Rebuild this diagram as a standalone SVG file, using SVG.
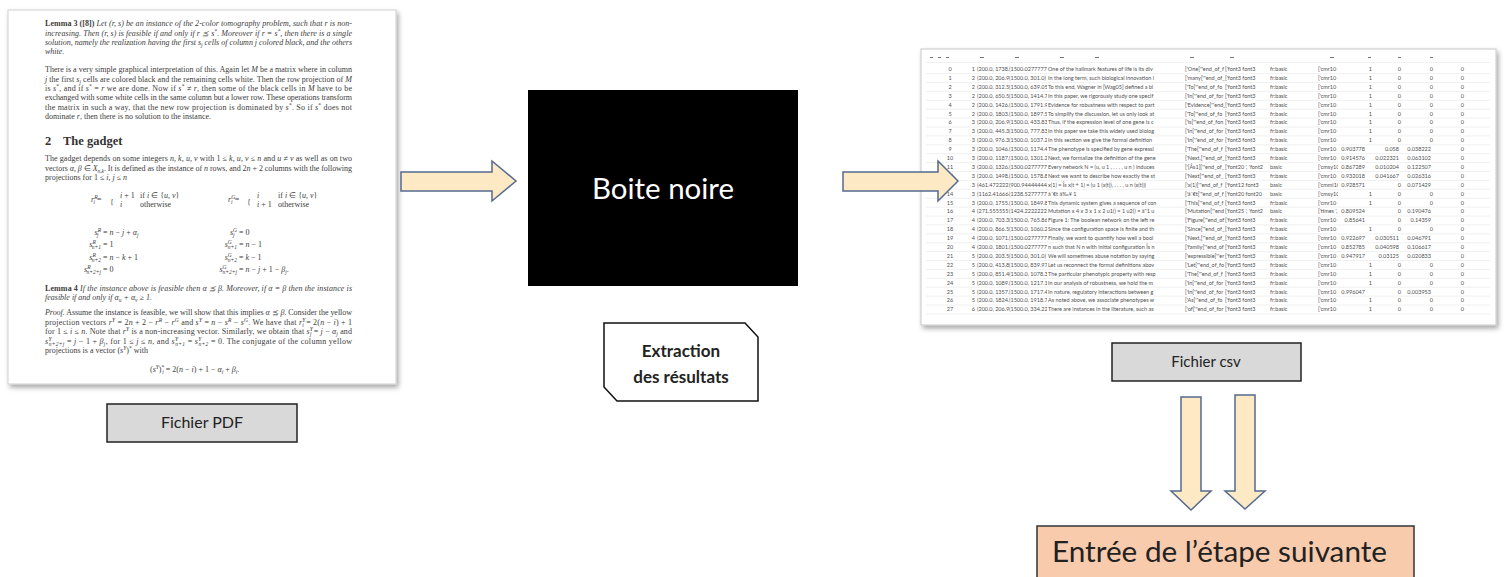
<svg xmlns="http://www.w3.org/2000/svg" width="1506" height="577" viewBox="0 0 1506 577">
<defs>
<style>
.p{font-family:"Liberation Serif",serif;font-size:8px;fill:#3c3c3c}
.it{font-style:italic}
.b{font-weight:bold}
.s{font-size:5.5px}
.h{font-family:"Liberation Serif",serif;font-size:12.5px;font-weight:bold;fill:#333}
.lbl{font-family:Lato,"Liberation Sans",sans-serif;fill:#222}
.c{font-family:Lato,"Liberation Sans",sans-serif;font-size:5.5px;fill:#505050}
.arw{fill:#fde9c4;stroke:#56698f;stroke-width:1.5;stroke-linejoin:miter}
.tag{fill:#d9d9d9;stroke:#222;stroke-width:1.5}
</style>
<filter id="sh" x="-5%" y="-5%" width="112%" height="112%"><feDropShadow dx="2" dy="3" stdDeviation="2.5" flood-color="#000" flood-opacity="0.35"/></filter>
<clipPath id="cb1"><rect x="976" y="60" width="33" height="262"/></clipPath>
<clipPath id="cb2"><rect x="1009" y="60" width="38" height="262"/></clipPath>
<clipPath id="ctx"><rect x="1047" y="60" width="138" height="262"/></clipPath>
<clipPath id="cls"><rect x="1185" y="60" width="40" height="262"/></clipPath>
<clipPath id="cfn"><rect x="1225" y="60" width="42" height="262"/></clipPath>
<clipPath id="ccm"><rect x="1318" y="60" width="20" height="262"/></clipPath>
</defs>
<rect width="1506" height="577" fill="#fff"/>

<g id="pdf-page">
<rect x="8" y="10" width="388" height="374" fill="#fff" stroke="#cfcfcf" stroke-width="1" filter="url(#sh)"/>
<text class="p" x="45" y="26" textLength="307" lengthAdjust="spacing"><tspan class="b">Lemma 3 ([8])</tspan> <tspan class="it">Let (r, s) be an instance of the 2-color tomography problem, such that r is non-</tspan></text>
<text class="p it" x="45" y="36" textLength="307" lengthAdjust="spacing">increasing. Then (r, s) is feasible if and only if r ⪯ s<tspan class="s" dy="-3">*</tspan><tspan dy="3">. Moreover if r = s</tspan><tspan class="s" dy="-3">*</tspan><tspan dy="3">, then there is a single</tspan></text>
<text class="p it" x="45" y="45" textLength="307" lengthAdjust="spacing">solution, namely the realization having the first s<tspan class="s" dy="2">j</tspan><tspan dy="-2"> cells of column j colored black, and the others</tspan></text>
<text class="p it" x="45" y="54">white.</text>
<text class="p" x="45" y="72" textLength="307" lengthAdjust="spacing">There is a very simple graphical interpretation of this. Again let <tspan class="it">M</tspan> be a matrix where in column</text>
<text class="p" x="45" y="82" textLength="307" lengthAdjust="spacing"><tspan class="it">j</tspan> the first <tspan class="it">s</tspan><tspan class="s it" dy="2">j</tspan><tspan dy="-2"> cells are colored black and the remaining cells white. Then the row projection of </tspan><tspan class="it">M</tspan></text>
<text class="p" x="45" y="91" textLength="307" lengthAdjust="spacing">is <tspan class="it">s</tspan><tspan class="s" dy="-3">*</tspan><tspan dy="3">, and if </tspan><tspan class="it">s</tspan><tspan class="s" dy="-3">*</tspan><tspan dy="3"> = </tspan><tspan class="it">r</tspan> we are done. Now if <tspan class="it">s</tspan><tspan class="s" dy="-3">*</tspan><tspan dy="3"> ≠ </tspan><tspan class="it">r</tspan>, then some of the black cells in <tspan class="it">M</tspan> have to be</text>
<text class="p" x="45" y="100" textLength="307" lengthAdjust="spacing">exchanged with some white cells in the same column but a lower row. These operations transform</text>
<text class="p" x="45" y="110" textLength="307" lengthAdjust="spacing">the matrix in such a way, that the new row projection is dominated by <tspan class="it">s</tspan><tspan class="s" dy="-3">*</tspan><tspan dy="3">. So if </tspan><tspan class="it">s</tspan><tspan class="s" dy="-3">*</tspan><tspan dy="3"> does not</tspan></text>
<text class="p" x="45" y="119">dominate <tspan class="it">r</tspan>, then there is no solution to the instance.</text>
<text class="h" x="45" y="145">2</text>
<text class="h" x="63" y="145">The gadget</text>
<text class="p" x="45" y="161" textLength="307" lengthAdjust="spacing">The gadget depends on some integers <tspan class="it">n, k, u, v</tspan> with 1 ≤ <tspan class="it">k, u, v</tspan> ≤ <tspan class="it">n</tspan> and <tspan class="it">u</tspan> ≠ <tspan class="it">v</tspan> as well as on two</text>
<text class="p" x="45" y="171" textLength="307" lengthAdjust="spacing">vectors <tspan class="it">α, β</tspan> ∈ <tspan class="it">X</tspan><tspan class="s it" dy="2">n,k</tspan><tspan dy="-2">. It is defined as the instance of </tspan><tspan class="it">n</tspan> rows, and 2<tspan class="it">n</tspan> + 2 columns with the following</text>
<text class="p" x="45" y="180">projections for 1 ≤ <tspan class="it">i, j</tspan> ≤ <tspan class="it">n</tspan></text>
<text class="p it" x="91" y="202">r<tspan class="s" dy="-3">R</tspan><tspan class="s" dx="-4" dy="5">i</tspan><tspan dy="-2" font-style="normal"> =</tspan></text>
<text class="p" x="110" y="205" font-size="16">{</text>
<text class="p" x="120" y="198"><tspan class="it">i</tspan> + 1</text>
<text class="p it" x="120" y="207">i</text>
<text class="p" x="140" y="198">if <tspan class="it">i</tspan> ∈ {<tspan class="it">u, v</tspan>}</text>
<text class="p" x="140" y="207">otherwise</text>
<text class="p it" x="228" y="202">r<tspan class="s" dy="-3">G</tspan><tspan class="s" dx="-4" dy="5">i</tspan><tspan dy="-2" font-style="normal"> =</tspan></text>
<text class="p" x="247" y="205" font-size="16">{</text>
<text class="p it" x="257" y="198">i</text>
<text class="p" x="257" y="207"><tspan class="it">i</tspan> + 1</text>
<text class="p" x="278" y="198">if <tspan class="it">i</tspan> ∈ {<tspan class="it">u, v</tspan>}</text>
<text class="p" x="278" y="207">otherwise</text>
<text class="p it" x="101" y="235" text-anchor="end">s<tspan class="s" dy="-3">R</tspan><tspan class="s" dx="-4" dy="5">j</tspan></text>
<text class="p" x="103" y="235">= <tspan class="it">n</tspan> − <tspan class="it">j</tspan> + <tspan class="it">α</tspan><tspan class="s it" dy="2">j</tspan></text>
<text class="p it" x="101" y="247" text-anchor="end">s<tspan class="s" dy="-3">R</tspan><tspan class="s" dx="-4" dy="5">n+1</tspan></text>
<text class="p" x="103" y="247">= 1</text>
<text class="p it" x="101" y="260" text-anchor="end">s<tspan class="s" dy="-3">R</tspan><tspan class="s" dx="-4" dy="5">n+2</tspan></text>
<text class="p" x="103" y="260">= <tspan class="it">n</tspan> − <tspan class="it">k</tspan> + 1</text>
<text class="p it" x="101" y="272" text-anchor="end">s<tspan class="s" dy="-3">R</tspan><tspan class="s" dx="-4" dy="5">n+2+j</tspan></text>
<text class="p" x="103" y="272">= 0</text>
<text class="p it" x="237" y="235" text-anchor="end">s<tspan class="s" dy="-3">G</tspan><tspan class="s" dx="-4" dy="5">j</tspan></text>
<text class="p" x="239" y="235">= 0</text>
<text class="p it" x="237" y="247" text-anchor="end">s<tspan class="s" dy="-3">G</tspan><tspan class="s" dx="-4" dy="5">n+1</tspan></text>
<text class="p" x="239" y="247">= <tspan class="it">n</tspan> − 1</text>
<text class="p it" x="237" y="260" text-anchor="end">s<tspan class="s" dy="-3">G</tspan><tspan class="s" dx="-4" dy="5">n+2</tspan></text>
<text class="p" x="239" y="260">= <tspan class="it">k</tspan> − 1</text>
<text class="p it" x="237" y="272" text-anchor="end">s<tspan class="s" dy="-3">G</tspan><tspan class="s" dx="-4" dy="5">n+2+j</tspan></text>
<text class="p" x="239" y="272">= <tspan class="it">n</tspan> − <tspan class="it">j</tspan> + 1 − <tspan class="it">β</tspan><tspan class="s it" dy="2">j</tspan><tspan dy="-2">.</tspan></text>
<text class="p" x="45" y="291" textLength="307" lengthAdjust="spacing"><tspan class="b">Lemma 4</tspan> <tspan class="it">If the instance above is feasible then α ⪯ β. Moreover, if α = β then the instance is</tspan></text>
<text class="p it" x="45" y="300">feasible if and only if α<tspan class="s" dy="2">u</tspan><tspan dy="-2"> + α</tspan><tspan class="s" dy="2">v</tspan><tspan dy="-2"> ≥ 1.</tspan></text>
<text class="p" x="45" y="315" textLength="307" lengthAdjust="spacing"><tspan class="it">Proof.</tspan> Assume the instance is feasible, we will show that this implies <tspan class="it">α</tspan> ⪯ <tspan class="it">β</tspan>. Consider the yellow</text>
<text class="p" x="45" y="325" textLength="307" lengthAdjust="spacing">projection vectors <tspan class="it">r</tspan><tspan class="s it" dy="-3">Y</tspan><tspan dy="3"> = 2</tspan><tspan class="it">n</tspan> + 2 − <tspan class="it">r</tspan><tspan class="s it" dy="-3">R</tspan><tspan dy="3"> − </tspan><tspan class="it">r</tspan><tspan class="s it" dy="-3">G</tspan><tspan dy="3"> and </tspan><tspan class="it">s</tspan><tspan class="s it" dy="-3">Y</tspan><tspan dy="3"> = </tspan><tspan class="it">n</tspan> − <tspan class="it">s</tspan><tspan class="s it" dy="-3">R</tspan><tspan dy="3"> − </tspan><tspan class="it">s</tspan><tspan class="s it" dy="-3">G</tspan><tspan dy="3">. We have that </tspan><tspan class="it">r</tspan><tspan class="s it" dy="-3">Y</tspan><tspan class="s it" dx="-3" dy="5">i</tspan><tspan dy="-2"> = 2(</tspan><tspan class="it">n</tspan> − <tspan class="it">i</tspan>) + 1</text>
<text class="p" x="45" y="334" textLength="307" lengthAdjust="spacing">for 1 ≤ <tspan class="it">i</tspan> ≤ <tspan class="it">n</tspan>. Note that <tspan class="it">r</tspan><tspan class="s it" dy="-3">Y</tspan><tspan dy="3"> is a non-increasing vector. Similarly, we obtain that </tspan><tspan class="it">s</tspan><tspan class="s it" dy="-3">Y</tspan><tspan class="s it" dx="-3" dy="5">j</tspan><tspan dy="-2"> = </tspan><tspan class="it">j</tspan> − <tspan class="it">α</tspan><tspan class="s it" dy="2">j</tspan><tspan dy="-2"> and</tspan></text>
<text class="p" x="45" y="344" textLength="307" lengthAdjust="spacing"><tspan class="it">s</tspan><tspan class="s it" dy="-3">Y</tspan><tspan class="s it" dx="-3" dy="5">n+2+j</tspan><tspan dy="-2"> = </tspan><tspan class="it">j</tspan> − 1 + <tspan class="it">β</tspan><tspan class="s it" dy="2">j</tspan><tspan dy="-2">, for 1 ≤ </tspan><tspan class="it">j</tspan> ≤ <tspan class="it">n</tspan>, and <tspan class="it">s</tspan><tspan class="s it" dy="-3">Y</tspan><tspan class="s it" dx="-3" dy="5">n+1</tspan><tspan dy="-2"> = </tspan><tspan class="it">s</tspan><tspan class="s it" dy="-3">Y</tspan><tspan class="s it" dx="-3" dy="5">n+2</tspan><tspan dy="-2"> = 0. The conjugate of the column yellow</tspan></text>
<text class="p" x="45" y="353">projections is a vector (<tspan class="it">s</tspan><tspan class="s it" dy="-3">Y</tspan><tspan dy="3">)</tspan><tspan class="s" dy="-3">*</tspan><tspan dy="3"> with</tspan></text>
<text class="p" x="150" y="372">(<tspan class="it">s</tspan><tspan class="s it" dy="-3">Y</tspan><tspan dy="3">)</tspan><tspan class="s" dy="-3">*</tspan><tspan class="s it" dx="-2" dy="5">i</tspan><tspan dy="-2"> = 2(</tspan><tspan class="it">n</tspan> − <tspan class="it">i</tspan>) + 1 − <tspan class="it">α</tspan><tspan class="s it" dy="2">i</tspan><tspan dy="-2"> + </tspan><tspan class="it">β</tspan><tspan class="s it" dy="2">i</tspan><tspan dy="-2">.</tspan></text>
</g>

<g id="label-pdf">
<rect class="tag" x="107" y="404" width="190" height="38"/>
<text class="lbl" x="202" y="428" font-size="16" text-anchor="middle">Fichier PDF</text>
</g>

<g id="boite-noire">
<rect x="528" y="90" width="270" height="196" fill="#000"/>
<text class="lbl" x="663" y="199" font-size="28" style="fill:#fff" text-anchor="middle" textLength="142" lengthAdjust="spacingAndGlyphs">Boite noire</text>
</g>

<g id="extraction">
<path d="M604,323 H745 L758,337 V401 H617 L604,387 Z" fill="#fff" stroke="#111" stroke-width="1.5"/>
<text class="lbl" x="681" y="357" font-size="17" text-anchor="middle" font-weight="bold">Extraction</text>
<text class="lbl" x="681" y="383" font-size="17" text-anchor="middle" font-weight="bold">des résultats</text>
</g>

<g id="csv-sheet">
<rect x="921" y="49" width="575" height="276" fill="#fff" stroke="#c8c8c8" stroke-width="1" filter="url(#sh)"/>
<path d="M930,57.5 h3 M938,57.5 h3 M946,57.5 h3 M980,57.5 h4 M1015,57.5 h4 M1060,57.5 h4 M1095,57.5 h4 M1190,57.5 h4 M1230,57.5 h4 M1330,57.5 h4 M1368,57.5 h3 M1398,57.5 h3 M1430,57.5 h3" stroke="#777" stroke-width="1"/>
<path d="M926,62.5 H1490 M926,73.6 H1490 M926,82.5 H1490 M926,91.4 H1490 M926,100.3 H1490 M926,109.2 H1490 M926,118.1 H1490 M926,127 H1490 M926,135.9 H1490 M926,144.8 H1490 M926,153.7 H1490 M926,162.6 H1490 M926,171.5 H1490 M926,180.4 H1490 M926,189.3 H1490 M926,198.2 H1490 M926,207.1 H1490 M926,216 H1490 M926,224.9 H1490 M926,233.8 H1490 M926,242.7 H1490 M926,251.6 H1490 M926,260.5 H1490 M926,269.4 H1490 M926,278.3 H1490 M926,287.2 H1490 M926,296.1 H1490 M926,305 H1490 M926,313.9 H1490" stroke="#ececec" stroke-width="0.8"/>
<text class="c" text-anchor="middle"><tspan x="950" y="71">0</tspan><tspan x="950" y="79.9">1</tspan><tspan x="950" y="88.8">2</tspan><tspan x="950" y="97.7">3</tspan><tspan x="950" y="106.6">4</tspan><tspan x="950" y="115.5">5</tspan><tspan x="950" y="124.4">6</tspan><tspan x="950" y="133.3">7</tspan><tspan x="950" y="142.2">8</tspan><tspan x="950" y="151.1">9</tspan><tspan x="950" y="160">10</tspan><tspan x="950" y="168.9">11</tspan><tspan x="950" y="177.8">12</tspan><tspan x="950" y="186.7">13</tspan><tspan x="950" y="195.6">14</tspan><tspan x="950" y="204.5">15</tspan><tspan x="950" y="213.4">16</tspan><tspan x="950" y="222.3">17</tspan><tspan x="950" y="231.2">18</tspan><tspan x="950" y="240.1">19</tspan><tspan x="950" y="249">20</tspan><tspan x="950" y="257.9">21</tspan><tspan x="950" y="266.8">22</tspan><tspan x="950" y="275.7">23</tspan><tspan x="950" y="284.6">24</tspan><tspan x="950" y="293.5">25</tspan><tspan x="950" y="302.4">26</tspan><tspan x="950" y="311.3">27</tspan></text>
<text class="c" text-anchor="end"><tspan x="975" y="71">1</tspan><tspan x="975" y="79.9">2</tspan><tspan x="975" y="88.8">2</tspan><tspan x="975" y="97.7">2</tspan><tspan x="975" y="106.6">2</tspan><tspan x="975" y="115.5">2</tspan><tspan x="975" y="124.4">3</tspan><tspan x="975" y="133.3">3</tspan><tspan x="975" y="142.2">3</tspan><tspan x="975" y="151.1">3</tspan><tspan x="975" y="160">3</tspan><tspan x="975" y="168.9">3</tspan><tspan x="975" y="177.8">3</tspan><tspan x="975" y="186.7">3</tspan><tspan x="975" y="195.6">3</tspan><tspan x="975" y="204.5">3</tspan><tspan x="975" y="213.4">4</tspan><tspan x="975" y="222.3">4</tspan><tspan x="975" y="231.2">4</tspan><tspan x="975" y="240.1">4</tspan><tspan x="975" y="249">4</tspan><tspan x="975" y="257.9">5</tspan><tspan x="975" y="266.8">5</tspan><tspan x="975" y="275.7">5</tspan><tspan x="975" y="284.6">5</tspan><tspan x="975" y="293.5">5</tspan><tspan x="975" y="302.4">5</tspan><tspan x="975" y="311.3">6</tspan></text>
<text class="c" clip-path="url(#cb1)"><tspan x="977" y="71">(200.0, 1738.</tspan><tspan x="977" y="79.9">(200.0, 206.9</tspan><tspan x="977" y="88.8">(200.0, 312.5)</tspan><tspan x="977" y="97.7">(200.0, 650.5</tspan><tspan x="977" y="106.6">(200.0, 1426.</tspan><tspan x="977" y="115.5">(200.0, 1803.4</tspan><tspan x="977" y="124.4">(200.0, 206.9</tspan><tspan x="977" y="133.3">(200.0, 445.3</tspan><tspan x="977" y="142.2">(200.0, 976.3</tspan><tspan x="977" y="151.1">(200.0, 1046.</tspan><tspan x="977" y="160">(200.0, 1187.5</tspan><tspan x="977" y="168.9">(200.0, 1326.</tspan><tspan x="977" y="177.8">(200.0, 1498.</tspan><tspan x="977" y="186.7">(461.4722222</tspan><tspan x="977" y="195.6">(1162.416666</tspan><tspan x="977" y="204.5">(200.0, 1755.</tspan><tspan x="977" y="213.4">(271.5555555</tspan><tspan x="977" y="222.3">(200.0, 703.3</tspan><tspan x="977" y="231.2">(200.0, 866.5)</tspan><tspan x="977" y="240.1">(200.0, 1071.</tspan><tspan x="977" y="249">(200.0, 1801.4</tspan><tspan x="977" y="257.9">(200.0, 203.5</tspan><tspan x="977" y="266.8">(200.0, 413.8</tspan><tspan x="977" y="275.7">(200.0, 851.4</tspan><tspan x="977" y="284.6">(200.0, 1089.</tspan><tspan x="977" y="293.5">(200.0, 1357.</tspan><tspan x="977" y="302.4">(200.0, 1824.</tspan><tspan x="977" y="311.3">(200.0, 206.9</tspan></text>
<text class="c" clip-path="url(#cb2)"><tspan x="1009" y="71">(1500.02777777</tspan><tspan x="1009" y="79.9">(1500.0, 301.0)</tspan><tspan x="1009" y="88.8">(1500.0, 639.05</tspan><tspan x="1009" y="97.7">(1500.0, 1414.7</tspan><tspan x="1009" y="106.6">(1500.0, 1791.9</tspan><tspan x="1009" y="115.5">(1500.0, 1897.5</tspan><tspan x="1009" y="124.4">(1500.0, 433.83</tspan><tspan x="1009" y="133.3">(1500.0, 777.83</tspan><tspan x="1009" y="142.2">(1500.0, 1037.2</tspan><tspan x="1009" y="151.1">(1500.0, 1174.4</tspan><tspan x="1009" y="160">(1500.0, 1301.2</tspan><tspan x="1009" y="168.9">(1500.02777777</tspan><tspan x="1009" y="177.8">(1500.0, 1578.8</tspan><tspan x="1009" y="186.7">(900.944444444</tspan><tspan x="1009" y="195.6">(1238.52777777</tspan><tspan x="1009" y="204.5">(1500.0, 1849.8</tspan><tspan x="1009" y="213.4">(1424.22222222</tspan><tspan x="1009" y="222.3">(1500.0, 765.86</tspan><tspan x="1009" y="231.2">(1500.0, 1060.2</tspan><tspan x="1009" y="240.1">(1500.02777777</tspan><tspan x="1009" y="249">(1500.02777777</tspan><tspan x="1009" y="257.9">(1500.0, 301.0)</tspan><tspan x="1009" y="266.8">(1500.0, 839.97</tspan><tspan x="1009" y="275.7">(1500.0, 1078.3</tspan><tspan x="1009" y="284.6">(1500.0, 1217.1</tspan><tspan x="1009" y="293.5">(1500.0, 1717.4</tspan><tspan x="1009" y="302.4">(1500.0, 1918.7</tspan><tspan x="1009" y="311.3">(1500.0, 334.22</tspan></text>
<text class="c" clip-path="url(#ctx)"><tspan x="1048" y="71">One of the hallmark features of life is its div</tspan><tspan x="1048" y="79.9">In the long term, such biological innovation i</tspan><tspan x="1048" y="88.8">To this end, Wagner in [Wag05] defined a bi</tspan><tspan x="1048" y="97.7">In this paper, we rigorously study one specif</tspan><tspan x="1048" y="106.6">Evidence for robustness with respect to part</tspan><tspan x="1048" y="115.5">To simplify the discussion, let us only look at</tspan><tspan x="1048" y="124.4">Thus, if the expression level of one gene is c</tspan><tspan x="1048" y="133.3">In this paper we take this widely used biolog</tspan><tspan x="1048" y="142.2">In this section we give the formal definition</tspan><tspan x="1048" y="151.1">The phenotype is specified by gene expressi</tspan><tspan x="1048" y="160">Next, we formalize the definition of the gene</tspan><tspan x="1048" y="168.9">Every network N = (u, u 1 , . . . , u n ) induces</tspan><tspan x="1048" y="177.8">Next we want to describe how exactly the st</tspan><tspan x="1048" y="186.7">x(1) = Îs x(t + 1) = (u 1 (x(t)), . . . , u n (x(t)))</tspan><tspan x="1048" y="195.6">â´€t â‰¥ 1</tspan><tspan x="1048" y="204.5">This dynamic system gives a sequence of con</tspan><tspan x="1048" y="213.4">Mutation x 4 x 3 x 1 x 2 u1() = 1 u2() = â''1 u</tspan><tspan x="1048" y="222.3">Figure 1: The boolean network on the left re</tspan><tspan x="1048" y="231.2">Since the configuration space is finite and th</tspan><tspan x="1048" y="240.1">Finally, we want to quantify how well a bool</tspan><tspan x="1048" y="249">n such that N n with initial configuration Îs n</tspan><tspan x="1048" y="257.9">We will sometimes abuse notation by saying</tspan><tspan x="1048" y="266.8">Let us reconnect the formal definitions abov</tspan><tspan x="1048" y="275.7">The particular phenotypic property with resp</tspan><tspan x="1048" y="284.6">In our analysis of robustness, we hold the m</tspan><tspan x="1048" y="293.5">In nature, regulatory interactions between g</tspan><tspan x="1048" y="302.4">As noted above, we associate phenotypes w</tspan><tspan x="1048" y="311.3">There are instances in the literature, such as</tspan></text>
<text class="c" clip-path="url(#cls)"><tspan x="1185" y="71">['One['"end_of_f</tspan><tspan x="1185" y="79.9">['many['"end_of_</tspan><tspan x="1185" y="88.8">['To['"end_of_fo</tspan><tspan x="1185" y="97.7">['In['"end_of_for</tspan><tspan x="1185" y="106.6">['Evidence['"end_</tspan><tspan x="1185" y="115.5">['To['"end_of_fo</tspan><tspan x="1185" y="124.4">['is['"end_of_fon</tspan><tspan x="1185" y="133.3">['In['"end_of_for</tspan><tspan x="1185" y="142.2">['In['"end_of_for</tspan><tspan x="1185" y="151.1">['The['"end_of_f</tspan><tspan x="1185" y="160">['Next,['"end_of_</tspan><tspan x="1185" y="168.9">['[Âs1]['"end_of_</tspan><tspan x="1185" y="177.8">['Next['"end_of_</tspan><tspan x="1185" y="186.7">['x(1)['"end_of_f</tspan><tspan x="1185" y="195.6">['â´€t['"end_of_f</tspan><tspan x="1185" y="204.5">['This['"end_of_f</tspan><tspan x="1185" y="213.4">['Mutation['"end</tspan><tspan x="1185" y="222.3">['Figure['"end_of</tspan><tspan x="1185" y="231.2">['Since['"end_of_</tspan><tspan x="1185" y="240.1">['Next,['"end_of_</tspan><tspan x="1185" y="249">['family['"end_of</tspan><tspan x="1185" y="257.9">['expressible['"er</tspan><tspan x="1185" y="266.8">['Let['"end_of_fo</tspan><tspan x="1185" y="275.7">['The['"end_of_f</tspan><tspan x="1185" y="284.6">['In['"end_of_for</tspan><tspan x="1185" y="293.5">['In['"end_of_for</tspan><tspan x="1185" y="302.4">['As['"end_of_fo</tspan><tspan x="1185" y="311.3">['of['"end_of_for</tspan></text>
<text class="c" clip-path="url(#cfn)"><tspan x="1225" y="71">['font3  font3</tspan><tspan x="1225" y="79.9">['font3  font3</tspan><tspan x="1225" y="88.8">['font3  font3</tspan><tspan x="1225" y="97.7">['font3  font3</tspan><tspan x="1225" y="106.6">['font3  font3</tspan><tspan x="1225" y="115.5">['font3  font3</tspan><tspan x="1225" y="124.4">['font3  font3</tspan><tspan x="1225" y="133.3">['font3  font3</tspan><tspan x="1225" y="142.2">['font3  font3</tspan><tspan x="1225" y="151.1">['font3  font3</tspan><tspan x="1225" y="160">['font3  font3</tspan><tspan x="1225" y="168.9">['font20 ', 'font2</tspan><tspan x="1225" y="177.8">['font3  font3</tspan><tspan x="1225" y="186.7">['font12  font3</tspan><tspan x="1225" y="195.6">['font20  font20</tspan><tspan x="1225" y="204.5">['font3  font3</tspan><tspan x="1225" y="213.4">['font25 ', 'font2</tspan><tspan x="1225" y="222.3">['font3  font3</tspan><tspan x="1225" y="231.2">['font3  font3</tspan><tspan x="1225" y="240.1">['font3  font3</tspan><tspan x="1225" y="249">['font3  font3</tspan><tspan x="1225" y="257.9">['font3  font3</tspan><tspan x="1225" y="266.8">['font3  font3</tspan><tspan x="1225" y="275.7">['font3  font3</tspan><tspan x="1225" y="284.6">['font3  font3</tspan><tspan x="1225" y="293.5">['font3  font3</tspan><tspan x="1225" y="302.4">['font3  font3</tspan><tspan x="1225" y="311.3">['font3  font3</tspan></text>
<text class="c"><tspan x="1270" y="71">fr:basic</tspan><tspan x="1270" y="79.9">fr:basic</tspan><tspan x="1270" y="88.8">fr:basic</tspan><tspan x="1270" y="97.7">fr:basic</tspan><tspan x="1270" y="106.6">fr:basic</tspan><tspan x="1270" y="115.5">fr:basic</tspan><tspan x="1270" y="124.4">fr:basic</tspan><tspan x="1270" y="133.3">fr:basic</tspan><tspan x="1270" y="142.2">fr:basic</tspan><tspan x="1270" y="151.1">fr:basic</tspan><tspan x="1270" y="160">fr:basic</tspan><tspan x="1270" y="168.9">basic</tspan><tspan x="1270" y="177.8">fr:basic</tspan><tspan x="1270" y="186.7">basic</tspan><tspan x="1270" y="195.6">basic</tspan><tspan x="1270" y="204.5">fr:basic</tspan><tspan x="1270" y="213.4">basic</tspan><tspan x="1270" y="222.3">fr:basic</tspan><tspan x="1270" y="231.2">fr:basic</tspan><tspan x="1270" y="240.1">fr:basic</tspan><tspan x="1270" y="249">fr:basic</tspan><tspan x="1270" y="257.9">fr:basic</tspan><tspan x="1270" y="266.8">fr:basic</tspan><tspan x="1270" y="275.7">fr:basic</tspan><tspan x="1270" y="284.6">fr:basic</tspan><tspan x="1270" y="293.5">fr:basic</tspan><tspan x="1270" y="302.4">fr:basic</tspan><tspan x="1270" y="311.3">fr:basic</tspan></text>
<text class="c" clip-path="url(#ccm)"><tspan x="1318" y="71">['cmr10 cr</tspan><tspan x="1318" y="79.9">['cmr10 cr</tspan><tspan x="1318" y="88.8">['cmr10 cr</tspan><tspan x="1318" y="97.7">['cmr10 cr</tspan><tspan x="1318" y="106.6">['cmr10 cr</tspan><tspan x="1318" y="115.5">['cmr10 cr</tspan><tspan x="1318" y="124.4">['cmr10 cr</tspan><tspan x="1318" y="133.3">['cmr10 cr</tspan><tspan x="1318" y="142.2">['cmr10 cr</tspan><tspan x="1318" y="151.1">['cmr10 cr</tspan><tspan x="1318" y="160">['cmr10 cr</tspan><tspan x="1318" y="168.9">['cmsy10 ',</tspan><tspan x="1318" y="177.8">['cmr10 cr</tspan><tspan x="1318" y="186.7">['cmmi10 :</tspan><tspan x="1318" y="195.6">['cmsy10 c</tspan><tspan x="1318" y="204.5">['cmr10 cr</tspan><tspan x="1318" y="213.4">['times ', 'i</tspan><tspan x="1318" y="222.3">['cmr10 cr</tspan><tspan x="1318" y="231.2">['cmr10 cr</tspan><tspan x="1318" y="240.1">['cmr10 cr</tspan><tspan x="1318" y="249">['cmr10 cr</tspan><tspan x="1318" y="257.9">['cmr10 cr</tspan><tspan x="1318" y="266.8">['cmr10 cr</tspan><tspan x="1318" y="275.7">['cmr10 cr</tspan><tspan x="1318" y="284.6">['cmr10 cr</tspan><tspan x="1318" y="293.5">['cmr10 cr</tspan><tspan x="1318" y="302.4">['cmr10 cr</tspan><tspan x="1318" y="311.3">['cmr10 cr</tspan></text>
<text class="c" text-anchor="end"><tspan x="1372" y="71">1</tspan><tspan x="1372" y="79.9">1</tspan><tspan x="1372" y="88.8">1</tspan><tspan x="1372" y="97.7">1</tspan><tspan x="1372" y="106.6">1</tspan><tspan x="1372" y="115.5">1</tspan><tspan x="1372" y="124.4">1</tspan><tspan x="1372" y="133.3">1</tspan><tspan x="1372" y="142.2">1</tspan><tspan x="1365" y="151.1">0.903778</tspan><tspan x="1365" y="160">0.914576</tspan><tspan x="1365" y="168.9">0.867289</tspan><tspan x="1365" y="177.8">0.932018</tspan><tspan x="1365" y="186.7">0.928571</tspan><tspan x="1372" y="195.6">1</tspan><tspan x="1372" y="204.5">1</tspan><tspan x="1365" y="213.4">0.809524</tspan><tspan x="1365" y="222.3">0.85641</tspan><tspan x="1372" y="231.2">1</tspan><tspan x="1365" y="240.1">0.922697</tspan><tspan x="1365" y="249">0.852785</tspan><tspan x="1365" y="257.9">0.947917</tspan><tspan x="1372" y="266.8">1</tspan><tspan x="1372" y="275.7">1</tspan><tspan x="1372" y="284.6">1</tspan><tspan x="1365" y="293.5">0.996047</tspan><tspan x="1372" y="302.4">1</tspan><tspan x="1372" y="311.3">1</tspan></text>
<text class="c" text-anchor="end"><tspan x="1401" y="71">0</tspan><tspan x="1401" y="79.9">0</tspan><tspan x="1401" y="88.8">0</tspan><tspan x="1401" y="97.7">0</tspan><tspan x="1401" y="106.6">0</tspan><tspan x="1401" y="115.5">0</tspan><tspan x="1401" y="124.4">0</tspan><tspan x="1401" y="133.3">0</tspan><tspan x="1401" y="142.2">0</tspan><tspan x="1399" y="151.1">0.058</tspan><tspan x="1399" y="160">0.022321</tspan><tspan x="1399" y="168.9">0.010204</tspan><tspan x="1399" y="177.8">0.041667</tspan><tspan x="1401" y="186.7">0</tspan><tspan x="1401" y="195.6">0</tspan><tspan x="1401" y="204.5">0</tspan><tspan x="1401" y="213.4">0</tspan><tspan x="1401" y="222.3">0</tspan><tspan x="1401" y="231.2">0</tspan><tspan x="1399" y="240.1">0.030511</tspan><tspan x="1399" y="249">0.040598</tspan><tspan x="1399" y="257.9">0.03125</tspan><tspan x="1401" y="266.8">0</tspan><tspan x="1401" y="275.7">0</tspan><tspan x="1401" y="284.6">0</tspan><tspan x="1401" y="293.5">0</tspan><tspan x="1401" y="302.4">0</tspan><tspan x="1401" y="311.3">0</tspan></text>
<text class="c" text-anchor="end"><tspan x="1433" y="71">0</tspan><tspan x="1433" y="79.9">0</tspan><tspan x="1433" y="88.8">0</tspan><tspan x="1433" y="97.7">0</tspan><tspan x="1433" y="106.6">0</tspan><tspan x="1433" y="115.5">0</tspan><tspan x="1433" y="124.4">0</tspan><tspan x="1433" y="133.3">0</tspan><tspan x="1433" y="142.2">0</tspan><tspan x="1431" y="151.1">0.038222</tspan><tspan x="1431" y="160">0.063102</tspan><tspan x="1431" y="168.9">0.122507</tspan><tspan x="1431" y="177.8">0.026316</tspan><tspan x="1431" y="186.7">0.071429</tspan><tspan x="1433" y="195.6">0</tspan><tspan x="1433" y="204.5">0</tspan><tspan x="1431" y="213.4">0.190476</tspan><tspan x="1431" y="222.3">0.14359</tspan><tspan x="1433" y="231.2">0</tspan><tspan x="1431" y="240.1">0.046791</tspan><tspan x="1431" y="249">0.106617</tspan><tspan x="1431" y="257.9">0.020833</tspan><tspan x="1433" y="266.8">0</tspan><tspan x="1433" y="275.7">0</tspan><tspan x="1433" y="284.6">0</tspan><tspan x="1431" y="293.5">0.003953</tspan><tspan x="1433" y="302.4">0</tspan><tspan x="1433" y="311.3">0</tspan></text>
<text class="c" text-anchor="end"><tspan x="1464" y="71">0</tspan><tspan x="1464" y="79.9">0</tspan><tspan x="1464" y="88.8">0</tspan><tspan x="1464" y="97.7">0</tspan><tspan x="1464" y="106.6">0</tspan><tspan x="1464" y="115.5">0</tspan><tspan x="1464" y="124.4">0</tspan><tspan x="1464" y="133.3">0</tspan><tspan x="1464" y="142.2">0</tspan><tspan x="1464" y="151.1">0</tspan><tspan x="1464" y="160">0</tspan><tspan x="1464" y="168.9">0</tspan><tspan x="1464" y="177.8">0</tspan><tspan x="1464" y="186.7">0</tspan><tspan x="1464" y="195.6">0</tspan><tspan x="1464" y="204.5">0</tspan><tspan x="1464" y="213.4">0</tspan><tspan x="1464" y="222.3">0</tspan><tspan x="1464" y="231.2">0</tspan><tspan x="1464" y="240.1">0</tspan><tspan x="1464" y="249">0</tspan><tspan x="1464" y="257.9">0</tspan><tspan x="1464" y="266.8">0</tspan><tspan x="1464" y="275.7">0</tspan><tspan x="1464" y="284.6">0</tspan><tspan x="1464" y="293.5">0</tspan><tspan x="1464" y="302.4">0</tspan><tspan x="1464" y="311.3">0</tspan></text>
</g>

<g id="label-csv">
<rect class="tag" x="1112" y="343" width="189" height="38"/>
<text class="lbl" x="1206" y="367" font-size="15" text-anchor="middle">Fichier csv</text>
</g>

<g id="etape-suivante">
<rect x="1037" y="526" width="377" height="70" fill="#f8cbad" stroke="#333" stroke-width="1.5"/>
<text class="lbl" x="1052" y="562" font-size="28" fill="#111" textLength="335" lengthAdjust="spacingAndGlyphs">Entrée de l’étape suivante</text>
</g>

<g id="connectors">
<polygon class="arw" points="401,172 492,172 492,161 516,181 492,201 492,191 401,191"/>
<polygon class="arw" points="843,172 938,172 938,161 958,181 938,201 938,191 843,191"/>
<polygon class="arw" points="1181,397 1201,397 1201,491 1211,491 1191,510 1171,491 1181,491"/>
<polygon class="arw" points="1235,395 1255,395 1255,491 1265,491 1245,509 1225,491 1235,491"/>
</g>
</svg>
